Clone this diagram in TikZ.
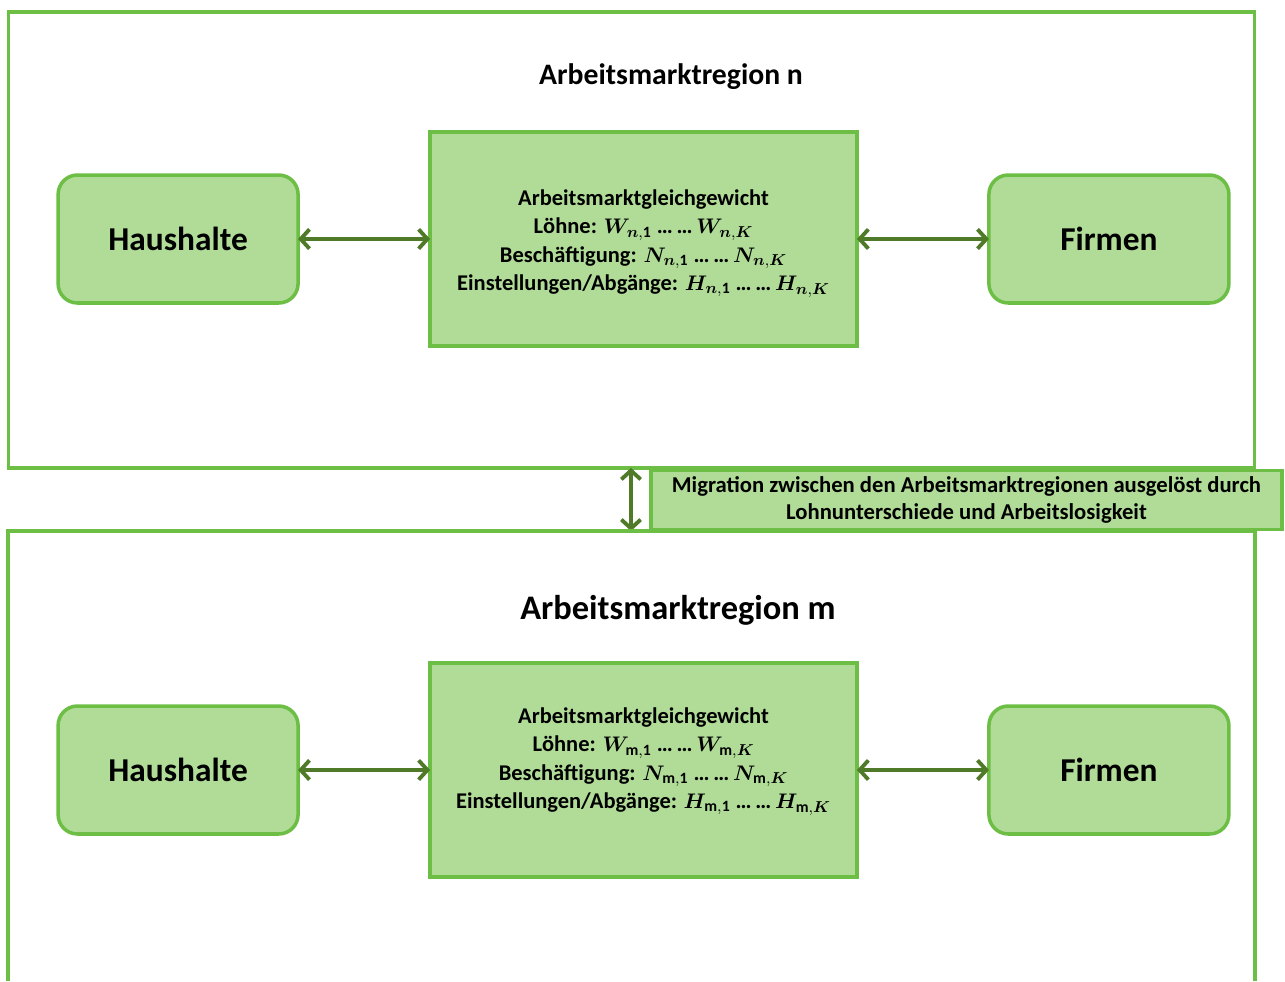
\documentclass[tikz,border=0pt]{standalone}
\usepackage{fontspec}
\setmainfont{Carlito}
\usepackage{amsmath}
\usepackage{bm}
\usepackage{xcolor}
\usetikzlibrary{arrows.meta, positioning}
\definecolor{rahmen}{RGB}{108,190,69}
\definecolor{fuell}{RGB}{176,220,152}
\definecolor{pfeil}{RGB}{79,122,40}
% W_{r,1} ... ... W_{r,K}
\newcommand{\reihe}[2]{$\bm{#1}_{#2{,}\mathbf{1}}$ \dots\,\dots\,$\bm{#1}_{#2{,}\bm{K}}$}

\begin{document}
\begin{tikzpicture}[x=0.02cm, y=-0.02cm, node distance=2.64cm, >={Straight Barb[length=5pt, width=11pt]},
  region/.style={draw=rahmen, line width=1.8pt, outer sep=0pt},
  akteur/.style={draw=rahmen, fill=fuell, line width=2pt, rounded corners=11pt, outer sep=0pt,
    minimum width=4.8cm, minimum height=2.56cm, font=\bfseries\fontsize{19}{22}\selectfont},
  markt/.style={draw=rahmen, fill=fuell, line width=1.8pt, outer sep=0pt, minimum width=8.54cm, minimum height=4.28cm},
  markttext/.style={align=center, font=\bfseries\fontsize{12.8}{16.1}\selectfont},
  pf/.style={<->, draw=pfeil, line width=2.2pt}]
  \useasboundingbox (0,0) rectangle (1285,981);

  % Region n
  \node[region, minimum width=24.94cm, minimum height=9.12cm] (rn) at (631.5,240) {};
  \node[font=\bfseries\fontsize{16.9}{20}\selectfont] (tn) at (671,77) {Arbeitsmarktregion n};
  \node[markt] (ngg) at (643.5,239) {};
  \node[markttext, yshift=-2.6pt] (ngt) at (ngg) {Arbeitsmarktgleichgewicht\\
    Löhne: \reihe{W}{\bm{n}}\\
    Beschäftigung: \reihe{N}{\bm{n}}\\
    Einstellungen/Abgänge: \reihe{H}{\bm{n}}};
  \node[akteur, left=of ngg] (nhh) {Haushalte};
  \node[akteur, right=of ngg] (nfi) {Firmen};
  \draw[pf] (nhh) -- (ngg);
  \draw[pf] (ngg) -- (nfi);

  % Migration
  \node[draw=rahmen, fill=fuell, line width=1.8pt, outer sep=0pt, minimum width=12.62cm, minimum height=1.12cm,
    align=center, font=\bfseries\fontsize{12.9}{15.3}\selectfont] (mig) at (966.5,500)
    {Migration zwischen den Arbeitsmarktregionen ausgelöst durch\\ Lohnunterschiede und Arbeitslosigkeit};
  \coordinate (mu) at (631,531);
  \draw[pf] (rn.south -| mu) -- (mu);

  % Region m
  \draw[region] (8,981) |- (1255,531) -- (1255,981);
  \node[font=\bfseries\fontsize{19.6}{23}\selectfont] (tm) at (678,610) {Arbeitsmarktregion m};
  \node[markt] (mgg) at (643.5,770) {};
  \node[markttext, yshift=4.8pt] (mgt) at (mgg) {Arbeitsmarktgleichgewicht\\
    Löhne: \reihe{W}{\mathbf{m}}\\
    Beschäftigung: \reihe{N}{\mathbf{m}}\\
    Einstellungen/Abgänge: \reihe{H}{\mathbf{m}}};
  \node[akteur, left=of mgg] (mhh) {Haushalte};
  \node[akteur, right=of mgg] (mfi) {Firmen};
  \draw[pf] (mhh) -- (mgg);
  \draw[pf] (mgg) -- (mfi);
\end{tikzpicture}
\end{document}
